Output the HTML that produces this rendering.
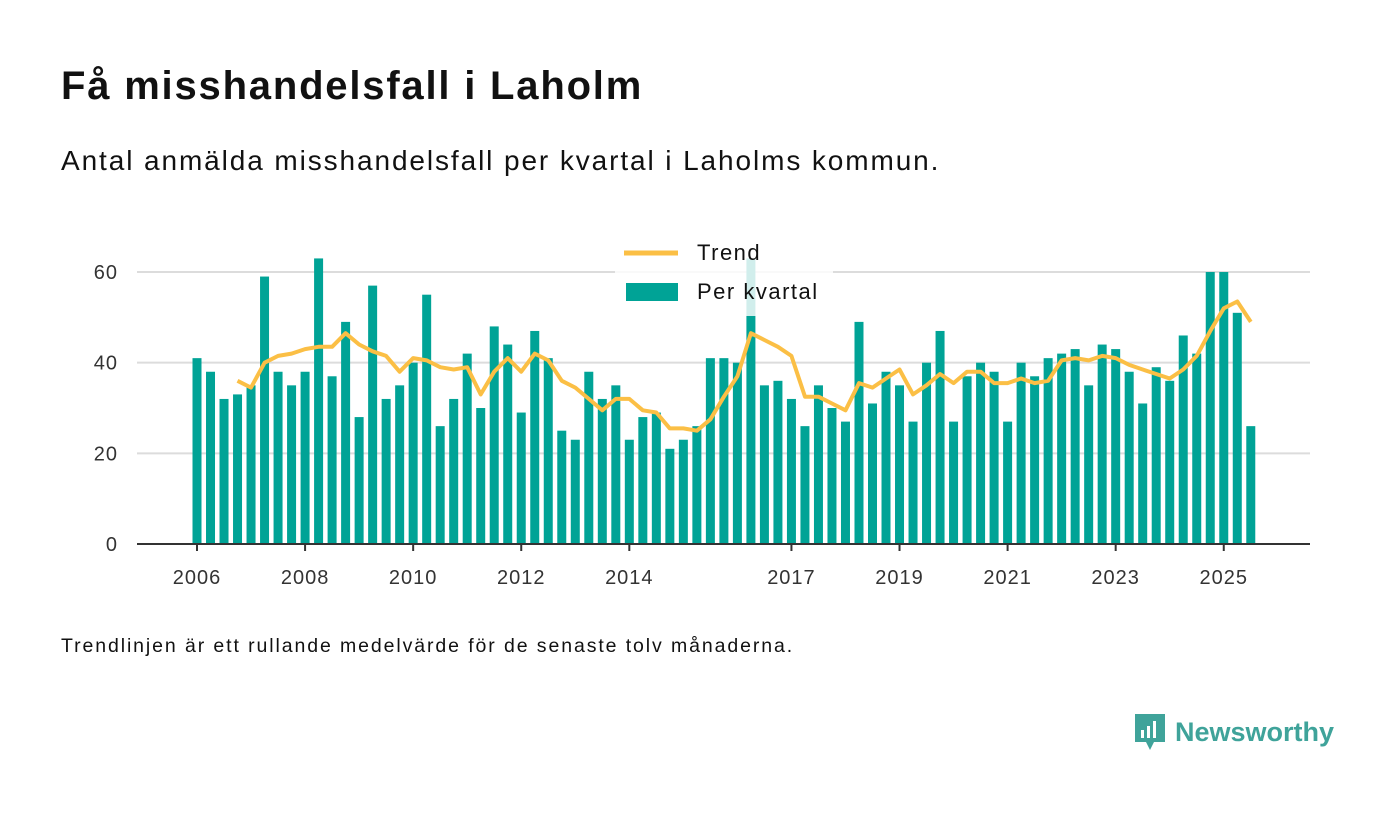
<!DOCTYPE html>
<html><head><meta charset="utf-8">
<style>
body{margin:0;background:#fff;width:1400px;height:813px;overflow:hidden;font-family:"Liberation Sans",sans-serif;color:#111;}
.t{position:absolute;left:61px;top:64px;font-size:40px;font-weight:bold;margin:0;letter-spacing:1.8px;}
.s{position:absolute;left:61px;top:145px;font-size:28px;letter-spacing:1.9px;}
.f{position:absolute;left:61px;top:635px;font-size:19.5px;letter-spacing:1.9px;}
.logo{position:absolute;left:1133px;top:712px;display:flex;align-items:center;gap:8px;color:#3fa39a;font-size:27px;font-weight:bold;}
</style></head><body>
<h1 class="t">Få misshandelsfall i Laholm</h1>
<div class="s">Antal anmälda misshandelsfall per kvartal i Laholms kommun.</div>
<svg id="chart" width="1400" height="813" style="position:absolute;left:0;top:0"></svg>
<div class="f">Trendlinjen är ett rullande medelvärde för de senaste tolv månaderna.</div>
<div class="logo">
<svg width="34" height="40" viewBox="0 0 34 40"><path d="M2 2h30v28H21l-4 8-4-8H2z" fill="#3fa39a"/><rect x="8" y="18" width="3" height="8" fill="#fff"/><rect x="14" y="14" width="3" height="12" fill="#fff"/><rect x="20" y="9" width="3" height="17" fill="#fff"/></svg>
<span>Newsworthy</span></div>
<script>
const values=[41,38,32,33, 35,59,38,35, 38,63,37,49, 28,57,32,35, 40,55,26,32, 42,30,48,44, 29,47,41,25, 23,38,32,35, 23,28,29,21, 23,26,41,41, 40,63,35,36, 32,26,35,30, 27,49,31,38, 35,27,40,47, 27,37,40,38, 27,40,37,41, 42,43,35,44, 43,38,31,39, 36,46,42,60, 60,51,26];
const trendStart=3;
const trend=[36,34.5,40,41.5,42,43,43.5,43.5,46.5,44,42.5,41.5,38,41,40.5,39,38.5,39,33,38,41,38,42,40.5,36,34.5,32,29.5,32,32,29.5,29,25.5,25.5,25,27.5,32.5,37,46.5,45,43.5,41.5,32.5,32.5,31,29.5,35.5,34.5,36.5,38.5,33,35,37.5,35.5,38,38,35.5,35.5,36.5,35.5,36,40.5,41,40.5,41.5,41,39.5,38.5,37.5,36.5,38.5,41.5,47,52,53.5,49];
const yTicks=[0,20,40,60];
const xLabels=["2006","2008","2010","2012","2014","2017","2019","2021","2023","2025"];
const startYear=2006;
const NS="http://www.w3.org/2000/svg";
const svg=document.getElementById('chart');
const x=i=>197+i*13.51;
const y=v=>544-v*4.533;
const xYear=yr=>x((yr-startYear)*4);
function mk(t,a){const e=document.createElementNS(NS,t);for(const k in a)e.setAttribute(k,a[k]);svg.appendChild(e);return e;}
yTicks.forEach(v=>{
 if(v>0){const g=mk('line',{x1:137,x2:1310,y1:y(v),y2:y(v),stroke:'#dcdcdc','stroke-width':2});
 
 }
 const t=mk('text',{x:118,y:y(v)+7,'text-anchor':'end','font-size':20,'letter-spacing':1,fill:'#333','font-family':'Liberation Sans, sans-serif'});
 t.textContent=v;
 
 
});
values.forEach((v,i)=>{
 const r=mk('rect',{x:x(i)-4.5,y:y(v),width:9,height:544-y(v),fill:'#00a396'});
 
 
});
const ax=mk('line',{x1:137,x2:1310,y1:544,y2:544,stroke:'#333','stroke-width':2});


xLabels.forEach(l=>{
 const xx=xYear(+l);
 const tk=mk('line',{x1:xx,x2:xx,y1:544,y2:551,stroke:'#333','stroke-width':2});
 
 
 const t=mk('text',{x:xx,y:584,'text-anchor':'middle','font-size':20,'letter-spacing':1,fill:'#333','font-family':'Liberation Sans, sans-serif'});
 t.textContent=l;
 
 
});
const pts=trend.map((v,i)=>x(i+trendStart).toFixed(1)+','+y(v).toFixed(1)).join(' ');
const pl=mk('polyline',{points:pts,fill:'none',stroke:'#fbbf45','stroke-width':4,'stroke-linejoin':'round'});


const lb=mk('rect',{x:615,y:238,width:218,height:78,fill:'#fff','fill-opacity':0.82});


const l1=mk('line',{x1:624,x2:678,y1:253,y2:253,stroke:'#fbbf45','stroke-width':5});


const t1=mk('text',{x:697,y:260,'font-size':22,'letter-spacing':1.5,fill:'#111','font-family':'Liberation Sans, sans-serif'});
t1.textContent='Trend';


const r2=mk('rect',{x:626,y:283,width:52,height:18,fill:'#00a396'});


const t2=mk('text',{x:697,y:299,'font-size':22,'letter-spacing':1.5,fill:'#111','font-family':'Liberation Sans, sans-serif'});
t2.textContent='Per kvartal';


</script>
</body></html>
